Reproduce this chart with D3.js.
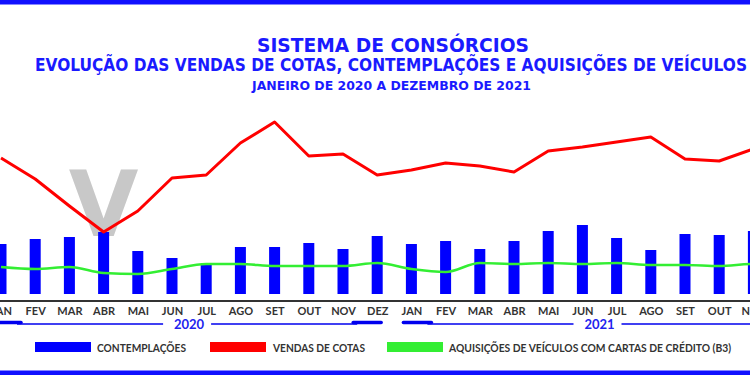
<!DOCTYPE html>
<html lang="pt">
<head>
  <meta charset="UTF-8" />
  <title>Sistema de Consórcios</title>
  <style>
    body {
      margin: 0;
      background: #fff;
      overflow: hidden;
    }
    svg {
      display: block;
    }
  </style>
</head>
<body>
  <svg width="750" height="375"></svg>

  <script src="https://cdnjs.cloudflare.com/ajax/libs/d3/7.8.5/d3.min.js"></script>
  <script>
    // months and years shown on the axis
    const months = ["JAN", "FEV", "MAR", "ABR", "MAI", "JUN", "JUL", "AGO", "SET", "OUT", "NOV", "DEZ"];
    const years = ["2020", "2021"];

    // values (thousands), jan/2020 .. dez/2021
    const contemplacoes = [100, 110, 114, 124, 86, 72, 58, 94, 94, 102, 90, 116,
                           100, 106, 90, 106, 126, 138, 112, 88, 120, 118, 126, 120];
    const vendasCotas = [272, 230, 176, 124, 166, 232, 238, 302, 344, 276, 280, 238,
                         248, 262, 256, 244, 286, 294, 304, 314, 270, 266, 290, 308];
    const aquisicoesB3 = [54, 50, 54, 42, 40, 50, 60, 60, 56, 56, 56, 62,
                          50, 44, 62, 60, 62, 60, 62, 58, 58, 56, 60, 60];

    const legendLabels = ["CONTEMPLAÇÕES", "VENDAS DE COTAS", "AQUISIÇÕES DE VEÍCULOS COM CARTAS DE CRÉDITO (B3)"];

    const keys = [];
    years.forEach(y => months.forEach(m => keys.push(m + "/" + y)));

    const blue = "#0000ff";
    const red = "#ff0000";
    const green = "#33ee33";
    const textGray = "#333";

    const svg = d3.select("svg");

    // the original is cropped: DEZ/2021 falls just outside the right edge
    const x = d3.scalePoint().domain(keys).range([1, 1 + 34.2 * 23]);
    const y = d3.scaleLinear().domain([0, 360]).range([294, 114]);

    // frame bars top and bottom
    svg.append("rect").attr("x", 0).attr("y", 0).attr("width", 750).attr("height", 4.5).attr("fill", "#1010ff");
    svg.append("rect").attr("x", 0).attr("y", 370.5).attr("width", 750).attr("height", 4.5).attr("fill", "#1010ff");

    // titles
    const titles = [
      { text: "SISTEMA DE CONSÓRCIOS", x0: 257, x1: 529, y: 52, size: 19 },
      { text: "EVOLUÇÃO DAS VENDAS DE COTAS, CONTEMPLAÇÕES E AQUISIÇÕES DE VEÍCULOS", x0: 35, x1: 747, y: 71, size: 17 },
      { text: "JANEIRO DE 2020 A DEZEMBRO DE 2021", x0: 252, x1: 531, y: 90, size: 12 }
    ];
    svg.append("g").selectAll("text")
      .data(titles)
      .join("text")
      .attr("x", d => d.x0)
      .attr("y", d => d.y)
      .attr("textLength", d => d.x1 - d.x0)
      .attr("lengthAdjust", "spacingAndGlyphs")
      .attr("font-family", "'DejaVu Sans', Verdana, sans-serif")
      .attr("font-weight", "bold")
      .attr("font-size", d => d.size)
      .attr("fill", "#1a1aff")
      .text(d => d.text);

    // grey "V" watermark behind the april dip
    svg.append("text")
      .attr("x", x("ABR/2020"))
      .attr("y", 236)
      .attr("text-anchor", "middle")
      .attr("font-family", "'DejaVu Sans', sans-serif")
      .attr("font-weight", "bold")
      .attr("font-size", 90)
      .attr("fill", "#c8c8c8")
      .text("V");

    // bars
    const barW = 11;
    svg.append("g")
      .selectAll("rect")
      .data(contemplacoes)
      .join("rect")
      .attr("x", (d, i) => x(keys[i]) - barW / 2)
      .attr("y", d => y(d))
      .attr("width", barW)
      .attr("height", d => y(0) - y(d))
      .attr("fill", blue);

    // lines
    const greenLine = d3.line()
      .x((d, i) => x(keys[i]))
      .y(d => y(d))
      .curve(d3.curveMonotoneX);
    svg.append("path")
      .datum(aquisicoesB3)
      .attr("d", greenLine)
      .attr("fill", "none")
      .attr("stroke", green)
      .attr("stroke-width", 2.5);

    const redLine = d3.line()
      .x((d, i) => x(keys[i]))
      .y(d => y(d));
    svg.append("path")
      .datum(vendasCotas)
      .attr("d", redLine)
      .attr("fill", "none")
      .attr("stroke", red)
      .attr("stroke-width", 3)
      .attr("stroke-linejoin", "round");

    // x axis
    svg.append("line")
      .attr("x1", 0).attr("x2", 750)
      .attr("y1", 301).attr("y2", 301)
      .attr("stroke", textGray)
      .attr("stroke-width", 2);

    const xAxis = d3.axisBottom(x)
      .tickSize(0)
      .tickPadding(6)
      .tickFormat(d => d.split("/")[0]);
    const axisG = svg.append("g")
      .attr("transform", "translate(0,301)")
      .call(xAxis);
    axisG.select(".domain").remove();
    axisG.selectAll("text")
      .attr("font-family", "Lato, 'Open Sans', sans-serif")
      .attr("font-weight", "bold")
      .attr("font-size", 11)
      .attr("fill", textGray);

    // year braces under the month labels
    years.forEach(yr => {
      const xa = x("JAN/" + yr) - 8;
      const xb = x("DEZ/" + yr) + 4;
      const mid = (xa + xb) / 2;
      const g = svg.append("g");
      const end = 28;
      const gap = 24;
      [[xa, xa + end], [xb - end, xb]].forEach(([a, b]) => {
        g.append("line")
          .attr("x1", a).attr("x2", b)
          .attr("y1", 322.5).attr("y2", 322.5)
          .attr("stroke", "#0000ee")
          .attr("stroke-width", 3.5)
          .attr("stroke-linecap", "round");
      });
      [[xa + end - 4, mid - gap], [mid + gap, xb - end + 4]].forEach(([a, b]) => {
        g.append("line")
          .attr("x1", a).attr("x2", b)
          .attr("y1", 324).attr("y2", 324)
          .attr("stroke", "#0000ee")
          .attr("stroke-width", 1.6);
      });
      g.append("text")
        .attr("x", mid + 2)
        .attr("y", 328.5)
        .attr("text-anchor", "middle")
        .attr("font-family", "Lato, 'Open Sans', sans-serif")
        .attr("font-weight", "bold")
        .attr("font-size", 13)
        .attr("fill", "#2222ee")
        .text(yr);
    });

    // legend
    const legend = [
      { label: legendLabels[0], color: blue, x: 35, tx: 97, tw: 89 },
      { label: legendLabels[1], color: red, x: 210, tx: 273, tw: 92 },
      { label: legendLabels[2], color: green, x: 387, tx: 449, tw: 282 }
    ];
    const lg = svg.append("g").selectAll("g")
      .data(legend)
      .join("g");
    lg.append("rect")
      .attr("x", d => d.x)
      .attr("y", 342)
      .attr("width", 56)
      .attr("height", 10)
      .attr("fill", d => d.color);
    lg.append("text")
      .attr("x", d => d.tx)
      .attr("y", 352)
      .attr("textLength", d => d.tw)
      .attr("lengthAdjust", "spacingAndGlyphs")
      .attr("font-family", "Lato, 'Open Sans', sans-serif")
      .attr("font-weight", "bold")
      .attr("font-size", 11.5)
      .attr("fill", textGray)
      .text(d => d.label);
  </script>
</body>
</html>
